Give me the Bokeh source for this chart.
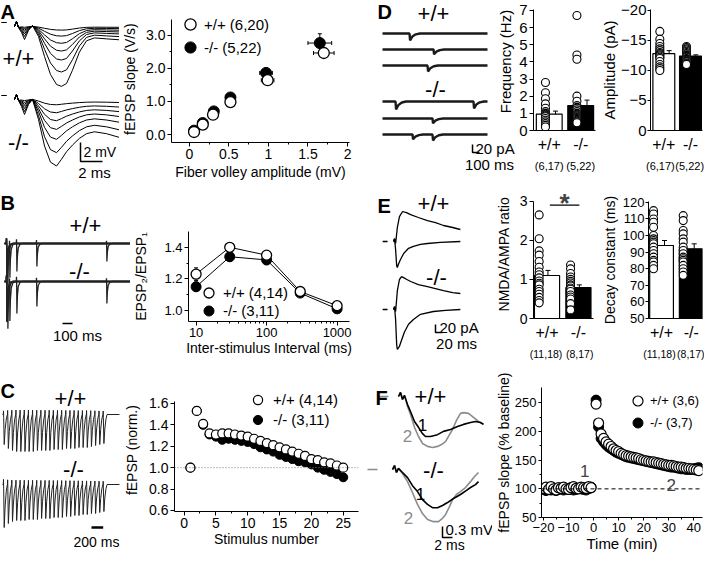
import numpy as np
from bokeh.plotting import figure
from bokeh.layouts import row, column
from bokeh.models import (Range1d, LinearAxis, FixedTicker, Legend, LegendItem, Label,
                          NumeralTickFormatter, Span, Whisker, TeeHead, ColumnDataSource)
from bokeh.embed import file_html
from bokeh.resources import INLINE

FONT = "Liberation Sans"
GRAY = "#8c8c8c"

# ======================= DATA =======================
# ---- A: input-output ----
fv_wt = [0.06, 0.17, 0.30, 0.52, 0.99, 1.70]
slope_wt = [0.08, 0.30, 0.60, 0.98, 1.64, 2.46]
fv_err_wt = [0.01, 0.02, 0.03, 0.04, 0.08, 0.13]
slope_err_wt = [0.02, 0.03, 0.05, 0.07, 0.10, 0.12]
fv_ko = [0.06, 0.17, 0.31, 0.52, 0.97, 1.65]
slope_ko = [0.12, 0.35, 0.70, 1.12, 1.86, 2.76]
fv_err_ko = [0.01, 0.02, 0.03, 0.04, 0.08, 0.15]
slope_err_ko = [0.02, 0.04, 0.06, 0.08, 0.14, 0.28]
labels_A = ["+/+ (6,20)", "-/- (5,22)"]
# A example traces: largest sweep (ms, mV) and relative sweep sizes
trA_t = [0, 0.18, 0.36, 0.64, 0.91, 1.27, 1.64, 2.18, 2.73, 3.27, 3.82, 4.27, 4.73, 5.27, 5.9, 6.55, 7.27, 8.36, 9.55]
trA_wt = [0, 0.53, -0.1, -0.63, -1.37, -0.42, 0.1, -1.05, -3.16, -5.05, -6.1, -6.3, -6.0, -4.6, -2.7, -1.5, -1.2, -1.3, -1.4]
trA_ko = [0, 0.53, -0.1, -0.74, -1.58, -0.53, 0.0, -2.1, -4.9, -6.6, -7.0, -6.3, -5.5, -4.8, -4.1, -3.6, -3.4, -3.6, -4.0]
trA_scale_wt = [1.0, 0.76, 0.56, 0.41, 0.28, 0.16, 0.06]
trA_scale_ko = [1.0, 0.8, 0.6, 0.45, 0.32, 0.2, 0.08]

# ---- B: paired-pulse ----
isi = [10, 30, 100, 300, 1000]
ppf_wt = [1.23, 1.40, 1.35, 1.12, 1.03]
ppf_err_wt = [0.04, 0.03, 0.02, 0.02, 0.01]
ppf_ko = [1.15, 1.34, 1.32, 1.11, 1.01]
ppf_err_ko = [0.03, 0.03, 0.03, 0.02, 0.01]
labels_B = ["+/+ (4,14)", "-/- (3,11)"]
trB_d1 = [3.4, 4.0]
trB_d2_wt = [3.2, 3.3, 2.8, 2.3, 1.8]
trB_d2_ko = [3.6, 3.8, 3.2, 2.5, 2.2]
pulseB_t = [-2, 0, 1.5, 4, 9, 18, 35, 60]
pulseB_v = [0, 0.15, -0.05, -1.0, -0.45, -0.15, -0.03, 0]

# ---- C: train ----
stim = list(range(1, 26))
fepsp_wt = [1.00, 1.53, 1.41, 1.32, 1.31, 1.32, 1.32, 1.31, 1.30, 1.29, 1.27, 1.25, 1.23,
            1.21, 1.19, 1.17, 1.15, 1.13, 1.11, 1.08, 1.07, 1.05, 1.04, 1.02, 1.00]
fepsp_ko = [1.00, 1.53, 1.40, 1.31, 1.29, 1.26, 1.27, 1.26, 1.25, 1.24, 1.22, 1.19, 1.17,
            1.15, 1.12, 1.10, 1.08, 1.06, 1.05, 1.03, 1.00, 0.98, 0.96, 0.94, 0.91]
fepsp_err = [0.0, 0.03, 0.03, 0.02, 0.02, 0.02, 0.02, 0.02, 0.02, 0.02, 0.02, 0.02, 0.02,
             0.02, 0.02, 0.02, 0.02, 0.02, 0.02, 0.02, 0.02, 0.02, 0.02, 0.02, 0.02]
labels_C = ["+/+ (4,14)", "-/- (3,11)"]
trC_isi = 71
trC_depth_wt = [3.0, 3.4, 3.6, 3.7, 3.7, 3.7, 3.7, 3.7, 3.6, 3.6, 3.6, 3.6, 3.5,
                3.5, 3.5, 3.4, 3.4, 3.4, 3.3, 3.3, 3.3, 3.2, 3.1, 3.0, 2.9]
trC_depth_ko = [4.3, 3.9, 3.7, 3.6, 3.6, 3.6, 3.5, 3.5, 3.5, 3.4, 3.4, 3.4, 3.3,
                3.3, 3.3, 3.2, 3.2, 3.1, 3.1, 3.0, 3.0, 2.9, 2.9, 2.8, 2.7]
pulseC_t = [-3, 0, 3, 12, 28, 48, 66]
pulseC_v = [0, 0.12, -0.1, -1.0, -0.5, -0.15, 0]

# ---- D: mEPSCs ----
geno = ["+/+", "-/-"]
geno_x = [1, 2]
n_D = ["(6,17)", "(5,22)"]
freq_wt = [2.8, 2.2, 1.85, 1.55, 1.3, 1.1, 1.0, 0.95, 0.9, 0.85, 0.8, 0.7, 0.6, 0.5, 0.4, 0.3, 0.2]
freq_ko = [6.7, 4.4, 4.15, 2.0, 1.7, 1.45, 1.35, 1.3, 1.2, 1.1, 1.0, 0.95, 0.9, 0.85, 0.8,
           0.75, 0.7, 0.65, 0.6, 0.55, 0.5, 0.45]
freq_mean = [0.95, 1.45]
freq_sem = [0.18, 0.32]
amp_wt = [-16.5, -15.2, -14.5, -14.0, -13.6, -13.3, -13.0, -12.8, -12.6, -12.4, -12.2, -12.0,
          -11.5, -11.0, -10.6, -10.3, -10.0]
amp_ko = [-14.0, -13.8, -13.6, -13.4, -13.2, -13.0, -12.8, -12.6, -12.5, -12.4, -12.3, -12.2,
          -12.0, -11.9, -11.8, -11.7, -11.6, -11.5, -11.4, -11.2, -11.1, -11.0]
amp_mean = [-12.8, -12.4]
amp_sem = [0.5, 0.2]
# D example traces (ms, pA): event times / amplitudes per sweep
trD_ev_t = [[386], [729], [643], [186, 1300], [714], [429, 714]]
trD_ev_a = [[17], [12], [15], [20, 17], [12], [12, 15]]
trD_offset = [0, -40, -80, -170, -212.5, -252.5]
eventD_t = [0, 8, 40, 90, 150]
eventD_v = [0, -1.0, -0.45, -0.12, 0]

# ---- E: NMDA/AMPA ----
n_E = ["(11,18)", "(8,17)"]
nmda_wt = [2.65, 2.04, 1.73, 1.62, 1.46, 1.31, 1.19, 1.12, 1.04, 0.96, 0.9, 0.86, 0.75, 0.69,
           0.62, 0.54, 0.46, 0.4]
nmda_ko = [1.37, 1.27, 1.15, 1.06, 1.0, 0.95, 0.91, 0.86, 0.83, 0.78, 0.75, 0.69, 0.6, 0.55,
           0.5, 0.38, 0.22]
nmda_mean = [1.1, 0.79]
nmda_sem = [0.13, 0.07]
decay_wt = [115, 113, 110, 108, 105, 100, 98, 97, 96, 95, 93, 91, 89, 87, 85, 84, 82, 80]
decay_ko = [112, 109, 103, 101, 98, 96, 93, 91, 89, 87, 86, 85, 84, 82, 80, 78, 76]
decay_mean = [94, 92]
decay_sem = [3, 3]
trE_t_wt_n = [0, 3, 6, 11, 17, 26, 37, 49, 71, 97, 120, 143, 169, 191]
trE_i_wt_n = [0, 7, -5, 35, 62, 75, 72, 67, 60, 52, 47, 40, 35, 30]
trE_t_wt_a = [0, 3, 6, 9, 11, 14, 20, 29, 43, 57, 77, 97, 134, 191]
trE_i_wt_a = [0, 7, -20, -60, -65, -57, -45, -30, -17, -12, -7, -5, -2, 0]
trE_t_ko_n = [0, 3, 6, 11, 17, 23, 34, 49, 71, 97, 120, 143, 169, 191]
trE_i_ko_n = [0, 7, -5, 47, 75, 82, 77, 70, 62, 57, 52, 47, 42, 40]
trE_t_ko_a = [0, 3, 6, 9, 11, 17, 23, 31, 43, 57, 77, 114, 149, 191]
trE_i_ko_a = [0, 7, -25, -87, -100, -92, -77, -57, -37, -25, -12, -5, -2, 0]
trE_ko_offset = -170

# ---- F: LTP ----
labels_F = ["+/+ (3,6)", "-/- (3,7)"]
t_base = list(range(-20, 0))
ltp_base_wt = [101, 103, 99, 104, 100, 98, 102, 101, 103, 100, 99, 102, 104, 101, 100, 103, 102, 101, 104, 102]
ltp_base_ko = [99, 97, 101, 98, 100, 97, 99, 100, 98, 101, 99, 100, 98, 99, 101, 100, 99, 98, 100, 103]
t_post = list(range(1, 43))
ltp_post_wt = [248, 215, 196, 188, 182, 178, 174, 170, 167, 165, 162, 160, 158, 157, 156, 155, 154,
               153, 151, 150, 149, 148, 147, 147, 146, 145, 144, 143, 142, 141, 141, 140, 139, 138,
               138, 137, 136, 136, 135, 134, 133, 132]
ltp_post_ko = [255, 208, 188, 182, 177, 173, 170, 167, 164, 162, 160, 158, 156, 155, 154, 153, 152,
               151, 150, 149, 148, 147, 146, 145, 144, 143, 142, 141, 140, 139, 138, 138, 137, 136,
               135, 135, 134, 134, 134, 135, 136, 137]
trF_wt1_t = [0, 0.4, 0.8, 1.2, 1.8, 2.4, 3.2, 4.0, 4.8, 5.4, 6.4, 7.8, 9.0, 10.4, 11.8, 13.0, 14.4, 15.4, 16.4, 17.0]
trF_wt1_v = [0, 0.11, -0.08, 0.03, -0.22, -0.41, -0.68, -0.84, -1.01, -1.09, -1.09, -1.04, -0.95, -0.90, -0.82, -0.76, -0.71, -0.68, -0.71, -0.76]
trF_wt2_t = [0, 0.4, 0.8, 1.2, 1.8, 2.4, 3.2, 4.0, 4.8, 5.8, 6.8, 7.8, 8.6, 9.4, 10.2, 10.8, 11.6, 12.4, 13.0, 14.0, 15.0, 16.0, 17.0]
trF_wt2_v = [0, 0.11, -0.08, 0.03, -0.27, -0.49, -0.84, -1.09, -1.28, -1.36, -1.39, -1.36, -1.31, -1.23, -1.04, -0.90, -0.65, -0.46, -0.44, -0.46, -0.57, -0.68, -0.76]
trF_ko1_t = [0, 0.4, 0.8, 1.2, 2.0, 3.0, 4.0, 5.0, 6.0, 7.0, 8.0, 9.0, 10.0, 11.0, 12.2, 13.6, 14.8, 15.6, 16.6, 17.2]
trF_ko1_v = [0, 0.11, -0.08, 0.03, -0.08, -0.22, -0.44, -0.60, -0.82, -0.95, -1.04, -1.04, -0.98, -0.90, -0.79, -0.68, -0.57, -0.49, -0.41, -0.33]
trF_ko2_t = [0, 0.4, 0.8, 1.2, 2.0, 3.0, 4.0, 5.0, 6.0, 7.0, 8.2, 9.2, 10.0, 10.6, 11.4, 12.0, 12.8, 13.6, 14.6, 15.6, 16.4, 17.2]
trF_ko2_v = [0, 0.11, -0.08, 0.03, -0.11, -0.33, -0.63, -0.95, -1.20, -1.36, -1.42, -1.42, -1.33, -1.23, -1.01, -0.82, -0.68, -0.60, -0.49, -0.33, -0.19, -0.08]
trF_ko_dt = -1.2
trF_ko_dv = -1.99


# ======================= HELPERS =======================
def trace_fig(w, h, xr, yr):
    p = figure(width=w, height=h, x_range=Range1d(*xr), y_range=Range1d(*yr),
               output_backend="svg", toolbar_location=None, title=None,
               x_axis_location=None, y_axis_location=None, min_border=0,
               outline_line_color=None, background_fill_color="white", border_fill_color="white",
               frame_align=False)
    p.grid.visible = False
    return p


def plot_fig(w, h, xr, yr, l, r, t, b, x_axis_type="linear"):
    p = figure(width=w, height=h, x_range=xr, y_range=yr, x_axis_type=x_axis_type,
               output_backend="svg", toolbar_location=None, title=None,
               min_border_left=l, min_border_right=r, min_border_top=t, min_border_bottom=b,
               outline_line_color=None, background_fill_color="white", border_fill_color="white",
               frame_align=False)
    p.grid.visible = False
    return p


def style_axis(ax, tick_fs="14px", label_fs="14px", tick_out=4, lab_so=2, axlab_so=4):
    ax.axis_line_color = "black"
    ax.axis_line_width = 1
    ax.major_tick_line_color = "black"
    ax.minor_tick_line_color = "black"
    ax.major_tick_in = 0
    ax.major_tick_out = tick_out
    ax.minor_tick_in = 0
    ax.minor_tick_out = 2
    ax.major_label_text_font = FONT
    ax.major_label_text_font_size = tick_fs
    ax.major_label_text_color = "black"
    ax.major_label_standoff = lab_so
    ax.axis_label_text_font = FONT
    ax.axis_label_text_font_size = label_fs
    ax.axis_label_text_font_style = "normal"
    ax.axis_label_text_color = "black"
    ax.axis_label_standoff = axlab_so


def label(p, x, y, text, size="22px", align="center", baseline="middle", color="black",
          bold=False, angle=0.0):
    p.add_layout(Label(x=x, y=y, x_units="screen", y_units="screen", text=text,
                       text_font=FONT, text_font_size=size, text_align=align,
                       text_baseline=baseline, text_color=color, angle=angle,
                       text_font_style="bold" if bold else "normal"))


def panel_letter(p, x, y, text):
    label(p, x, y, text, size="20px", align="left", baseline="top", bold=True)


def errbars(p, x, y, err, dim="height", head=4, width=1.0):
    x = np.asarray(x, float)
    y = np.asarray(y, float)
    e = np.asarray(err, float)
    if dim == "height":
        src = ColumnDataSource(dict(base=x, lower=y - e, upper=y + e))
    else:
        src = ColumnDataSource(dict(base=y, lower=x - e, upper=x + e))
    w = Whisker(source=src, base="base", lower="lower", upper="upper", dimension=dim,
                line_color="black", line_width=width, level="underlay",
                upper_head=TeeHead(size=head, line_color="black", line_width=width),
                lower_head=TeeHead(size=head, line_color="black", line_width=width))
    p.add_layout(w)


def legend_item(p, rend, text, cx, cy, fl, fb, box, tx, fs="15px"):
    leg = Legend(items=[LegendItem(label=text, renderers=[rend])],
                 location=(int(round(cx - box / 2 - fl)), int(round(fb - cy - box / 2))),
                 glyph_width=box, glyph_height=box, label_height=box,
                 label_standoff=max(0, int(round(tx - (cx + box / 2)))),
                 padding=0, margin=0, spacing=0, border_line_color=None,
                 background_fill_alpha=0.0, label_text_font=FONT,
                 label_text_font_size=fs, label_text_color="black")
    p.add_layout(leg)


def pulse_train(t0, t1, stims, depths, tmpl_t, tmpl_v):
    tt = [t0, t1]
    for s in stims:
        tt += [s + x for x in tmpl_t]
    tt = np.unique(np.array(tt, float))
    v = np.zeros_like(tt)
    for s, d in zip(stims, depths):
        v += d * np.interp(tt - s, tmpl_t, tmpl_v, left=0.0, right=0.0)
    return tt, v


def scale_bar(p, x0, y0, dx, dy, width=1.5):
    p.line([x0, x0, x0 + dx], [y0 + dy, y0, y0], line_color="black", line_width=width)


def cat_axes(p, small_labels, small_pos, big_fs="16px", small_fs="11px"):
    xa = p.xaxis[0]
    style_axis(xa, tick_fs=big_fs, lab_so=1)
    xa.ticker = FixedTicker(ticks=geno_x)
    xa.major_label_overrides = {geno_x[0]: geno[0], geno_x[1]: geno[1]}
    xa.major_tick_line_color = None
    xa2 = LinearAxis(ticker=FixedTicker(ticks=small_pos),
                     major_label_overrides={small_pos[0]: small_labels[0], small_pos[1]: small_labels[1]})
    style_axis(xa2, tick_fs=small_fs, lab_so=0)
    xa2.axis_line_color = None
    xa2.major_tick_line_color = None
    p.add_layout(xa2, "below")


def bar_panel(p, means, sems, pts_wt, pts_ko, dot_off, err_off, width=0.8):
    p.vbar(x=geno_x, top=means, width=width, bottom=0 if p.y_range.start == 0 else p.y_range.start,
           fill_color=["white", "black"], line_color="black", line_width=1.2)
    errbars(p, [g + err_off for g in geno_x], means, sems, "height", head=5)
    p.scatter([geno_x[0] + dot_off] * len(pts_wt), pts_wt, size=8, fill_color="white",
              line_color="black", line_width=1.1)
    p.scatter([geno_x[1] + dot_off] * len(pts_ko), pts_ko, size=8, fill_color="white",
              line_color="black", line_width=1.1)


# ======================= PANEL A =======================
# traces: 11 px/ms, 9.5 px/mV
pAt = trace_fig(119, 182, (-1.273, 9.545), (-16.42, 2.737))
tA = np.array(trA_t)
ko_off_A = -7.68
for tmpl, scales, off in ((trA_wt, trA_scale_wt, 0.0), (trA_ko, trA_scale_ko, ko_off_A)):
    tm = np.array(tmpl)
    xs, ys = [], []
    for s in scales:
        xs.append(tA)
        ys.append(np.where(tA < 0.4, tm, tm * s) + off)
    pAt.multi_line(xs, ys, line_color="black", line_width=1.0)
    pAt.line([-1.2, -0.7], [0.42 + off, 0.42 + off], line_color="black", line_width=1.2)
scale_bar(pAt, 6.0, -14.2, 2.0, 2.0)
panel_letter(pAt, 0, 182, "A")
label(pAt, 18, 124, "+/+")
label(pAt, 18, 40, "-/-")
label(pAt, 83, 31, "2 mV", size="14px", align="left")
label(pAt, 94, 10, "2 ms", size="15px")

# scatter
pA = plot_fig(243, 182, Range1d(-0.225, 2.025), Range1d(-0.237, 3.59), 50, 13, 15, 38)
for ax in pA.axis:
    style_axis(ax)
pA.xaxis[0].ticker = FixedTicker(ticks=[0, 0.5, 1, 1.5, 2], minor_ticks=[0.25, 0.75, 1.25, 1.75])
pA.xaxis[0].formatter = NumeralTickFormatter(format="0.[0]")
pA.xaxis[0].axis_label = "Fiber volley amplitude (mV)"
pA.xaxis[0].axis_label_standoff = 2
pA.yaxis[0].ticker = FixedTicker(ticks=[0, 1, 2, 3], minor_ticks=[0.5, 1.5, 2.5])
pA.yaxis[0].formatter = NumeralTickFormatter(format="0.0")
pA.yaxis[0].bounds = (-0.237, 3.47)
pA.yaxis[0].axis_label = "fEPSP slope (V/s)"
pA.yaxis[0].axis_label_standoff = 5
errbars(pA, fv_ko, slope_ko, slope_err_ko, "height")
errbars(pA, fv_ko, slope_ko, fv_err_ko, "width")
errbars(pA, fv_wt, slope_wt, slope_err_wt, "height")
errbars(pA, fv_wt, slope_wt, fv_err_wt, "width")
rA_ko = pA.scatter(fv_ko, slope_ko, size=11, fill_color="black", line_color="black")
rA_wt = pA.scatter(fv_wt, slope_wt, size=11, fill_color="white", line_color="black", line_width=1.3)
legend_item(pA, rA_wt, labels_A[0], 194, 32, 175, 150, 28, 205)
legend_item(pA, rA_ko, labels_A[1], 194, 55, 175, 150, 28, 205)

# ======================= PANEL B =======================
# traces: 0.1 px/ms, 10 px/mV
pBt = trace_fig(130, 180, (-60, 1240), (-11.9, 6.1))
for d1, d2s, off in ((trB_d1[0], trB_d2_wt, 0.0), (trB_d1[1], trB_d2_ko, -3.8)):
    xs, ys = [], []
    for iv, d2 in zip(isi, d2s):
        tt, vv = pulse_train(-20, 1260, [0, iv], [d1, d2], pulseB_t, pulseB_v)
        xs.append(tt)
        ys.append(vv + off)
    pBt.multi_line(xs, ys, line_color="#222222", line_width=1.3)
scale_bar(pBt, 560, -8.0, 100, 0.0)
panel_letter(pBt, 0, 171, "B")
label(pBt, 85, 137, "+/+")
label(pBt, 79, 91, "-/-")
label(pBt, 77, 27, "100 ms", size="15px")

pB = plot_fig(232, 180, Range1d(7.8, 1500), Range1d(0.93, 1.50), 52, 13, 49, 41, x_axis_type="log")
for ax in pB.axis:
    style_axis(ax, tick_fs="13px")
pB.xaxis[0].ticker = FixedTicker(ticks=[10, 100, 1000],
                                 minor_ticks=[20, 30, 40, 50, 60, 70, 80, 90, 200, 300, 400, 500, 600, 700, 800, 900])
pB.xaxis[0].formatter = NumeralTickFormatter(format="0")
pB.xaxis[0].axis_label = "Inter-stimulus Interval (ms)"
pB.xaxis[0].axis_label_standoff = 0
pB.yaxis[0].ticker = FixedTicker(ticks=[1.0, 1.2, 1.4], minor_ticks=[1.1, 1.3])
pB.yaxis[0].formatter = NumeralTickFormatter(format="0.0")
pB.yaxis[0].axis_label = "EPSP\u2082/EPSP\u2081"
pB.yaxis[0].axis_label_standoff = 12
errbars(pB, isi, ppf_ko, ppf_err_ko, "height")
errbars(pB, isi, ppf_wt, ppf_err_wt, "height")
pB.line(isi, ppf_wt, line_color="black", line_width=1)
pB.line(isi, ppf_ko, line_color="black", line_width=1)
rB_ko = pB.scatter(isi, ppf_ko, size=10, fill_color="black", line_color="black")
rB_wt = pB.scatter(isi, ppf_wt, size=10, fill_color="white", line_color="black", line_width=1.3)
legend_item(pB, rB_wt, labels_B[0], 208, 298, 188, 327, 25, 222)
legend_item(pB, rB_ko, labels_B[1], 208, 317, 188, 327, 25, 222)

# ======================= PANEL C =======================
# traces: 0.0585 px/ms, 10 px/mV
pCt = trace_fig(121, 192, (-51.3, 2017), (-14.0, 5.2))
stim_times = [i * trC_isi for i in range(25)]
for depths, off in ((trC_depth_wt, 0.0), (trC_depth_ko, -7.0)):
    tt, vv = pulse_train(-17, 1983, stim_times, depths, pulseC_t, pulseC_v)
    pCt.line(tt, vv + off, line_color="#222222", line_width=1.0)
scale_bar(pCt, 1504, -11.3, 200, 0.0, width=2.5)
panel_letter(pCt, 0, 175, "C")
label(pCt, 70, 156, "+/+")
label(pCt, 73, 85, "-/-")
label(pCt, 96, 13, "200 ms", size="14px")

pC = plot_fig(241, 192, Range1d(-1.5, 27.4), Range1d(0.59, 1.74), 46, 4, 26, 43)
for ax in pC.axis:
    style_axis(ax)
pC.xaxis[0].ticker = FixedTicker(ticks=[0, 5, 10, 15, 20, 25],
                                 minor_ticks=[2.5, 7.5, 12.5, 17.5, 22.5])
pC.xaxis[0].axis_label = "Stimulus number"
pC.xaxis[0].axis_label_standoff = 0
pC.yaxis[0].ticker = FixedTicker(ticks=[0.6, 0.8, 1.0, 1.2, 1.4, 1.6])
pC.yaxis[0].formatter = NumeralTickFormatter(format="0.0")
pC.yaxis[0].bounds = (0.59, 1.62)
pC.yaxis[0].axis_label = "fEPSP (norm.)"
pC.yaxis[0].axis_label_standoff = 6
pC.add_layout(Span(location=1.0, dimension="width", line_color="#777777",
                   line_dash="1 2", line_width=1))
errbars(pC, stim, fepsp_ko, fepsp_err, "height", head=3)
errbars(pC, stim, fepsp_wt, fepsp_err, "height", head=3)
rC_ko = pC.scatter(stim, fepsp_ko, size=9, fill_color="black", line_color="black")
rC_wt = pC.scatter(stim, fepsp_wt, size=9, fill_color="white", line_color="black", line_width=1.2)
legend_item(pC, rC_wt, labels_C[0], 257, 405, 173, 517, 23, 272)
legend_item(pC, rC_ko, labels_C[1], 257, 426, 173, 517, 23, 272)

# ======================= PANEL D =======================
# traces: 0.07 px/ms, 0.4 px/pA
pDt = trace_fig(154, 174, (-285.7, 1914.3), (-352.5, 82.5))
for evt, eva, off in zip(trD_ev_t, trD_ev_a, trD_offset):
    tt, vv = pulse_train(0, 1500, evt, eva, eventD_t, eventD_v)
    pDt.line(tt, vv + off, line_color="#1a1a1a", line_width=2.4)
scale_bar(pDt, 1286, -297.5, 100, 20)
panel_letter(pDt, 15, 174, "D")
label(pDt, 71, 161, "+/+")
label(pDt, 73, 85, "-/-")
label(pDt, 113, 26, "20 pA", size="15px", align="left")
label(pDt, 127, 10, "100 ms", size="15px")
label(pDt, 143, 113, "Frequency (Hz)", size="15px", angle=np.pi / 2)

pDf = plot_fig(82, 174, Range1d(0.5, 2.47), Range1d(0, 7.05), 14, 3, 9, 40)
style_axis(pDf.yaxis[0], tick_fs="15px", label_fs="15px", axlab_so=0)
pDf.yaxis[0].ticker = FixedTicker(ticks=list(range(8)))
cat_axes(pDf, n_D, [1, 2])
bar_panel(pDf, freq_mean, freq_sem, freq_wt, freq_ko, -0.12, 0.2, width=0.82)

pDa = plot_fig(106, 174, Range1d(0.5, 2.45), Range1d(0, -20.15), 42, 2, 9, 40)
style_axis(pDa.yaxis[0], tick_fs="15px", label_fs="15px", tick_out=3, lab_so=1, axlab_so=0)
pDa.yaxis[0].ticker = FixedTicker(ticks=[0, -5, -10, -15, -20])
pDa.yaxis[0].axis_label = "Amplitude (pA)"
cat_axes(pDa, n_D, [0.87, 1.97])
bar_panel(pDa, amp_mean, amp_sem, amp_wt, amp_ko, -0.15, 0.2, width=0.82)

# ======================= PANEL E =======================
# traces: 0.35 px/ms, 0.4 px/pA
pEt = trace_fig(130, 188, (-88.57, 282.86), (-302.5, 167.5))
for (tn, iN, ta, ia, off) in ((trE_t_wt_n, trE_i_wt_n, trE_t_wt_a, trE_i_wt_a, 0.0),
                              (trE_t_ko_n, trE_i_ko_n, trE_t_ko_a, trE_i_ko_a, trE_ko_offset)):
    pEt.line(tn, np.array(iN) + off, line_color="black", line_width=1.3)
    pEt.line(ta, np.array(ia) + off, line_color="black", line_width=1.3)
    pEt.line([-31, -17], [off, off], line_color="black", line_width=1.3)
scale_bar(pEt, 120, -227.5, 20, 20)
panel_letter(pEt, 15, 168, "E")
label(pEt, 71, 159, "+/+")
label(pEt, 74, 85, "-/-")
label(pEt, 77, 35, "20 pA", size="15px", align="left")
label(pEt, 94, 19, "20 ms", size="15px")

pEn = plot_fig(106, 188, Range1d(0.57, 2.48), Range1d(0, 3.3), 38, 5, 15, 30)
style_axis(pEn.yaxis[0], tick_fs="14px", label_fs="14px", axlab_so=5)
pEn.yaxis[0].ticker = FixedTicker(ticks=[0, 1, 2, 3])
pEn.yaxis[0].bounds = (0, 3.0)
pEn.yaxis[0].axis_label = "NMDA/AMPA ratio"
cat_axes(pEn, n_E, [0.97, 2.04], small_fs="10.5px")
bar_panel(pEn, nmda_mean, nmda_sem, nmda_wt, nmda_ko, -0.25, 0.03, width=0.8)
sig_x = [1.09, 2.03]
sig_y = 2.9
pEn.line(sig_x, [sig_y, sig_y], line_color="black", line_width=1.3)
pEn.add_layout(Label(x=sum(sig_x) / 2, y=2.95, text="*", text_font=FONT, text_font_size="26px",
                     text_font_style="bold", text_align="center", text_baseline="middle"))

pEd = plot_fig(106, 188, Range1d(0.56, 2.38), Range1d(50, 120.5), 44, 2, 27, 30)
style_axis(pEd.yaxis[0], tick_fs="13px", label_fs="14px", tick_out=3, lab_so=1, axlab_so=2)
pEd.yaxis[0].ticker = FixedTicker(ticks=list(range(50, 121, 10)))
pEd.yaxis[0].axis_label = "Decay constant (ms)"
cat_axes(pEd, n_E, [0.93, 2.03], small_fs="10.5px")
bar_panel(pEd, decay_mean, decay_sem, decay_wt, decay_ko, -0.27, 0.1, width=0.8)

# ======================= PANEL F =======================
# traces: 5 px/ms, 36.7 px/mV
pFt = trace_fig(130, 192, (-7.2, 18.8), (-4.305, 0.926))
pFt.line(trF_wt2_t, trF_wt2_v, line_color=GRAY, line_width=1.6)
pFt.line(trF_wt1_t, trF_wt1_v, line_color="black", line_width=1.6)
pFt.line(np.array(trF_ko2_t) + trF_ko_dt, np.array(trF_ko2_v) + trF_ko_dv, line_color=GRAY, line_width=1.6)
pFt.line(np.array(trF_ko1_t) + trF_ko_dt, np.array(trF_ko1_v) + trF_ko_dv, line_color="black", line_width=1.6)
pFt.line([-4, -2], [0, 0], line_color=GRAY, line_width=1.6)
pFt.line([-6.2, -4.2], [trF_ko_dv, trF_ko_dv], line_color=GRAY, line_width=1.6)
scale_bar(pFt, 8.8, -3.842, 2.0, 0.3)
panel_letter(pFt, 13, 168, "F")
label(pFt, 68, 158, "+/+")
label(pFt, 71, 84, "-/-")
label(pFt, 60, 130, "1", size="17px")
label(pFt, 58, 61, "1", size="17px")
label(pFt, 45, 119, "2", size="17px", color=GRAY)
label(pFt, 46, 37, "2", size="17px", color=GRAY)
label(pFt, 83, 25, "0.3 mV", size="15px", align="left")
label(pFt, 87, 10, "2 ms", size="14px")

pF = plot_fig(212, 192, Range1d(-20.8, 43.5), Range1d(50, 277), 43, 2, 25, 33)
for ax in pF.axis:
    style_axis(ax, tick_fs="13px", label_fs="14px", tick_out=3, lab_so=2, axlab_so=0)
pF.xaxis[0].ticker = FixedTicker(ticks=[-20, -10, 0, 10, 20, 30, 40],
                                 minor_ticks=[-15, -5, 5, 15, 25, 35])
pF.xaxis[0].axis_label = "Time (min)"
pF.xaxis[0].axis_label_text_font_size = "15px"
pF.yaxis[0].ticker = FixedTicker(ticks=[50, 100, 150, 200, 250], minor_ticks=[75, 125, 175, 225])
pF.yaxis[0].axis_label = "fEPSP slope (% baseline)"
pF.add_layout(Span(location=100, dimension="width", line_color="black", line_dash="4 3", line_width=1))
rF_ko = pF.scatter(t_base + t_post, ltp_base_ko + ltp_post_ko, size=10, fill_color="black", line_color="black")
rF_wt = pF.scatter(t_base + t_post, ltp_base_wt + ltp_post_wt, size=10, fill_color="white",
                   line_color="black", line_width=1.2)
legend_item(pF, rF_wt, labels_F[0], 641, 410, 545, 527, 25, 654, fs="13px")
legend_item(pF, rF_ko, labels_F[1], 641, 432, 545, 527, 25, 654, fs="13px")
pF.add_layout(Label(x=-3.5, y=131, text="1", text_font=FONT, text_font_size="17px",
                    text_align="center", text_baseline="middle"))
pF.add_layout(Label(x=31, y=106, text="2", text_font=FONT, text_font_size="17px",
                    text_align="center", text_baseline="middle"))

# ======================= LAYOUT =======================
left = column(row(pAt, pA), row(pBt, pB), row(pCt, pC))
right = column(row(pDt, pDf, pDa), row(pEt, pEn, pEd), row(pFt, pF))
layout = row(left, right)

open("out.html", "w").write(file_html(layout, INLINE))
